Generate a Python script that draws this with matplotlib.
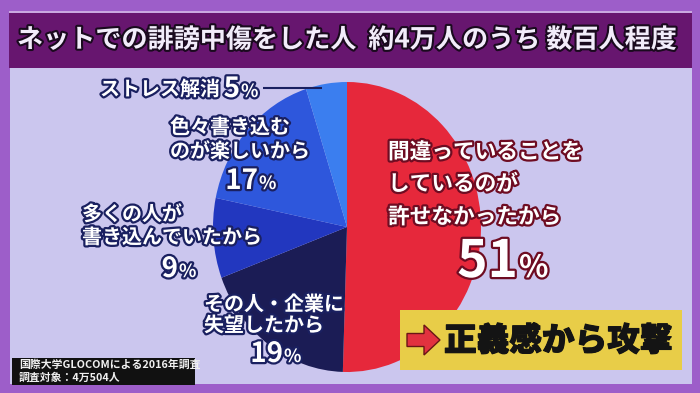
import matplotlib
matplotlib.use("Agg")
import matplotlib.pyplot as plt
import matplotlib.patheffects as pe
from matplotlib.patches import Rectangle, FancyArrow

plt.rcParams['font.family'] = ['Noto Sans CJK JP', 'DejaVu Sans']

# ---- data ----
title = "ネットでの誹謗中傷をした人  約4万人のうち 数百人程度"
categories = ["間違っていることをしているのが許せなかったから",
              "その人・企業に失望したから",
              "多くの人が書き込んでいたから",
              "色々書き込むのが楽しいから",
              "ストレス解消"]
values = [51, 19, 9, 17, 5]
label_lines = [["間違っていることを", "しているのが", "許せなかったから"],
               ["その人・企業に", "失望したから"],
               ["多くの人が", "書き込んでいたから"],
               ["色々書き込む", "のが楽しいから"],
               ["ストレス解消"]]
slice_colors = ["#e6283b", "#1b1c55", "#2237bf", "#2e57dc", "#3b7eef"]
callout = "正義感から攻撃"
source_lines = ["国際大学GLOCOMによる2016年調査", "調査対象：4万504人"]

W, H = 700, 393
fig = plt.figure(figsize=(W / 100, H / 100), dpi=100)
fig.patch.set_facecolor("#9d5ec9")

# background axes in pixel coords
bg = fig.add_axes([0, 0, 1, 1], zorder=0)
bg.set_xlim(0, W); bg.set_ylim(H, 0); bg.axis("off")
bg.add_patch(Rectangle((10, 66), 682, 318, color="#cbc6ee", lw=0))
bg.add_patch(Rectangle((9, 12), 683, 56, color="#67166f", lw=0))
bg.add_patch(Rectangle((9, 11), 683, 2, color="#c9a8e0", lw=0))

# pie axes: ellipse centre (347,227), rx 134, ry 145
cx, cy, rx, ry = 347, 227, 134, 145
pax = fig.add_axes([(cx - rx) / W, (H - cy - ry) / H, 2 * rx / W, 2 * ry / H], zorder=1)
pax.pie(values, colors=slice_colors, startangle=90, counterclock=False,
        wedgeprops=dict(linewidth=0))
pax.set_aspect("auto")
pax.set_xlim(-1, 1); pax.set_ylim(-1, 1)
pax.axis("off")

# overlay
ov = fig.add_axes([0, 0, 1, 1], zorder=2)
ov.set_xlim(0, W); ov.set_ylim(H, 0); ov.axis("off")
ov.patch.set_alpha(0)

ov.text(347, 40, title, ha="center", va="center", fontsize=18.8,
        fontweight="bold", color="#f2ecfa",
        path_effects=[pe.withStroke(linewidth=3, foreground="#1a0a1e")])

navy_fx = [pe.withStroke(linewidth=3.2, foreground="#1a2060")]
red_fx = [pe.withStroke(linewidth=3.2, foreground="#6e0c22")]

def pct(x, y, value, big, small, fx):
    ov.text(x, y, str(value), ha="right", va="baseline", fontsize=big,
            fontweight="bold", color="white", path_effects=fx)
    ov.text(x + 1, y, "%", ha="left", va="baseline", fontsize=small,
            fontweight="bold", color="white", path_effects=fx)

# red slice label
for i, (line, y) in enumerate(zip(label_lines[0], [152, 184, 217])):
    ov.text(388, y, line, ha="left", va="center", fontsize=15.6,
            fontweight="bold", color="white", path_effects=red_fx)
pct(518, 277, values[0], 37, 22, red_fx)

# 19%
for line, y in zip(label_lines[1], [304, 325]):
    ov.text(204, y, line, ha="left", va="center", fontsize=14.4,
            fontweight="bold", color="white", path_effects=navy_fx)
pct(283, 362, values[1], 20, 13, navy_fx)

# 9%
for line, y in zip(label_lines[2], [214, 237]):
    ov.text(82, y, line, ha="left", va="center", fontsize=14.4,
            fontweight="bold", color="white", path_effects=navy_fx)
pct(178, 277, values[2], 20, 13, navy_fx)

# 17%
for line, y in zip(label_lines[3], [127, 151]):
    ov.text(170, y, line, ha="left", va="center", fontsize=14.4,
            fontweight="bold", color="white", path_effects=navy_fx)
pct(258, 189, values[3], 20, 13, navy_fx)

# 5%
ov.text(100, 89, label_lines[4][0], ha="left", va="center", fontsize=14.4,
        fontweight="bold", color="white", path_effects=navy_fx)
pct(240, 97, values[4], 20, 13, navy_fx)
ov.plot([263, 322], [88, 88], color="#1a2060", lw=1.5, solid_capstyle="butt")

# callout box
ov.add_patch(Rectangle((400, 310), 282, 60, color="#e8cd48", lw=0))
ov.add_patch(FancyArrow(407, 340, 17, 0, width=13, head_width=30, head_length=16,
                        length_includes_head=False, fc="#e2323f", ec="#6a1616", lw=1))
ov.text(444, 341, callout, ha="left", va="center", fontsize=23.5,
        fontweight="black", color="#141414",
        path_effects=[pe.withStroke(linewidth=0.8, foreground="#141414")])

# source box
ov.add_patch(Rectangle((12, 358), 183, 27, color="#111111", lw=0))
ov.text(19, 365, source_lines[0], ha="left", va="center", fontsize=7.8,
        fontweight="bold", color="#f0f0f0")
ov.text(19, 378, source_lines[1], ha="left", va="center", fontsize=7.8,
        fontweight="bold", color="#f0f0f0")

fig.savefig("out.png", dpi=100, facecolor=fig.get_facecolor())
